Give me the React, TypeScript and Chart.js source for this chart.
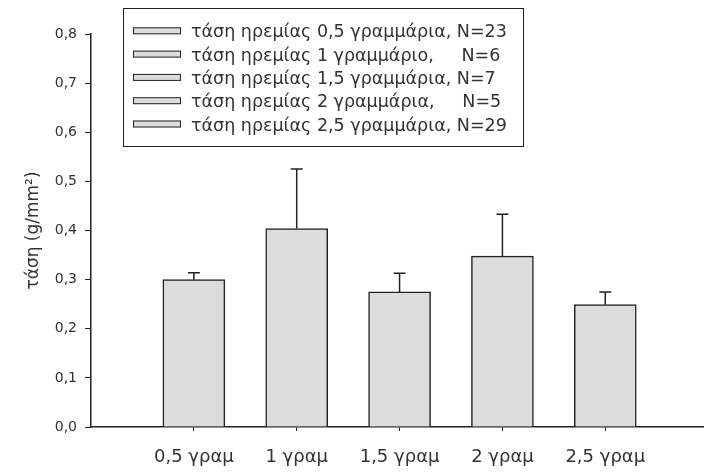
import { useEffect, useRef } from 'react';
import { Chart, registerables } from 'chart.js';

Chart.register(...registerables);

// Resting tension per load group (g/mm²), mean and upper SD
const CATEGORIES = ['0,5 γραμ', '1 γραμ', '1,5 γραμ', '2 γραμ', '2,5 γραμ'];
const SERIES_LABELS = [
  'τάση ηρεμίας 0,5 γραμμάρια, N=23',
  'τάση ηρεμίας 1 γραμμάριο,     N=6',
  'τάση ηρεμίας 1,5 γραμμάρια, N=7',
  'τάση ηρεμίας 2 γραμμάρια,     N=5',
  'τάση ηρεμίας 2,5 γραμμάρια, N=29',
];
const MEANS = [0.3, 0.404, 0.275, 0.348, 0.249];
const SD_UPPER = [0.014, 0.121, 0.038, 0.085, 0.026];
const Y_TICKS = [0, 0.1, 0.2, 0.3, 0.4, 0.5, 0.6, 0.7, 0.8];
const Y_TITLE = 'τάση (g/mm²)';
const X_MAX = 5.95;

const FONT = 'DejaVu Sans';
const INK = '#222222';
const TEXT = '#333333';
const BAR_FILL = '#dcdcdc';

const fmtComma = (v: number) => v.toFixed(1).replace('.', ',');

// Upward-only error bars with a short cap
const errorBars = {
  id: 'errorBars',
  afterDatasetsDraw(chart: any) {
    const { ctx } = chart;
    const y = chart.scales.y;
    ctx.save();
    ctx.strokeStyle = INK;
    ctx.lineWidth = 1.5;
    chart.data.datasets.forEach((ds: any, i: number) => {
      const bar = chart.getDatasetMeta(i).data[0];
      if (!bar) return;
      const top = y.getPixelForValue(ds.data[0].y + ds.errorUp);
      ctx.beginPath();
      ctx.moveTo(bar.x, bar.y);
      ctx.lineTo(bar.x, top);
      ctx.moveTo(bar.x - 6, top);
      ctx.lineTo(bar.x + 6, top);
      ctx.stroke();
    });
    ctx.restore();
  },
};

// Boxed legend that sits over the upper part of the plot
const boxedLegend = {
  id: 'boxedLegend',
  afterDraw(chart: any) {
    const { ctx, chartArea } = chart;
    const left = chartArea.left + 32;
    const top = 8;
    const width = 400;
    const height = 138;
    const rowGap = 23.3;
    ctx.save();
    ctx.fillStyle = '#ffffff';
    ctx.fillRect(left, top, width, height);
    ctx.strokeStyle = INK;
    ctx.lineWidth = 1;
    ctx.strokeRect(left + 0.5, top + 0.5, width, height);
    ctx.font = `17.5px "${FONT}"`;
    ctx.textBaseline = 'alphabetic';
    ctx.textAlign = 'left';
    chart.data.datasets.forEach((ds: any, i: number) => {
      const base = top + 29.3 + i * rowGap;
      const swY = base - 10;
      ctx.fillStyle = ds.backgroundColor;
      ctx.fillRect(left + 10, swY, 48, 7);
      ctx.strokeStyle = INK;
      ctx.strokeRect(left + 10.5, swY + 0.5, 47, 6);
      ctx.fillStyle = TEXT;
      ctx.fillText(ds.label, left + 68, base);
    });
    ctx.restore();
  },
};

export default function App() {
  const canvasRef = useRef<HTMLCanvasElement | null>(null);

  useEffect(() => {
    const canvas = canvasRef.current;
    if (!canvas) return;
    const datasets = MEANS.map((m, i) => ({
      label: SERIES_LABELS[i],
      data: [{ x: i + 1, y: m }],
      errorUp: SD_UPPER[i],
      backgroundColor: BAR_FILL,
      borderColor: INK,
      borderWidth: 1.5,
      barThickness: 62,
      grouped: false,
    }));

    const chart = new Chart(canvas, {
      type: 'bar',
      data: { datasets } as any,
      plugins: [errorBars, boxedLegend],
      options: {
        animation: false,
        responsive: false,
        devicePixelRatio: 1,
        layout: { padding: { top: 34, right: 1, left: 0, bottom: 0 } },
        plugins: {
          legend: { display: false },
          tooltip: { enabled: false },
        },
        scales: {
          x: {
            type: 'linear',
            min: 0,
            max: X_MAX,
            offset: false,
            afterBuildTicks: (axis: any) => {
              axis.ticks = CATEGORIES.map((_, i) => ({ value: i + 1 }));
            },
            afterFit: (axis: any) => {
              axis.height = 46;
            },
            ticks: {
              callback: (v: any) => CATEGORIES[Math.round(Number(v)) - 1] ?? '',
              font: { family: FONT, size: 18 },
              color: TEXT,
              padding: 16,
              maxRotation: 0,
              autoSkip: false,
            },
            grid: { drawOnChartArea: false, offset: false, tickLength: 4, color: INK },
            border: { display: true, color: INK, width: 1.5 },
          },
          y: {
            type: 'linear',
            min: 0,
            max: 0.8,
            afterBuildTicks: (axis: any) => {
              axis.ticks = Y_TICKS.map((v) => ({ value: v }));
            },
            afterFit: (axis: any) => {
              axis.width = 91;
            },
            ticks: {
              callback: (v: any) => fmtComma(Number(v)),
              font: { family: FONT, size: 14 },
              color: TEXT,
              padding: 8,
            },
            grid: { drawOnChartArea: false, tickLength: 6, color: INK },
            border: { display: true, color: INK, width: 1.5 },
            title: {
              display: true,
              text: Y_TITLE,
              font: { family: FONT, size: 17 },
              color: TEXT,
              padding: { top: 23, bottom: 0 },
            },
          },
        },
      } as any,
    });
    return () => chart.destroy();
  }, []);

  return (
    <div style={{ position: 'fixed', left: 0, top: 0, width: 704, height: 473, background: '#fff' }}>
      <canvas ref={canvasRef} width={704} height={473} />
    </div>
  );
}
